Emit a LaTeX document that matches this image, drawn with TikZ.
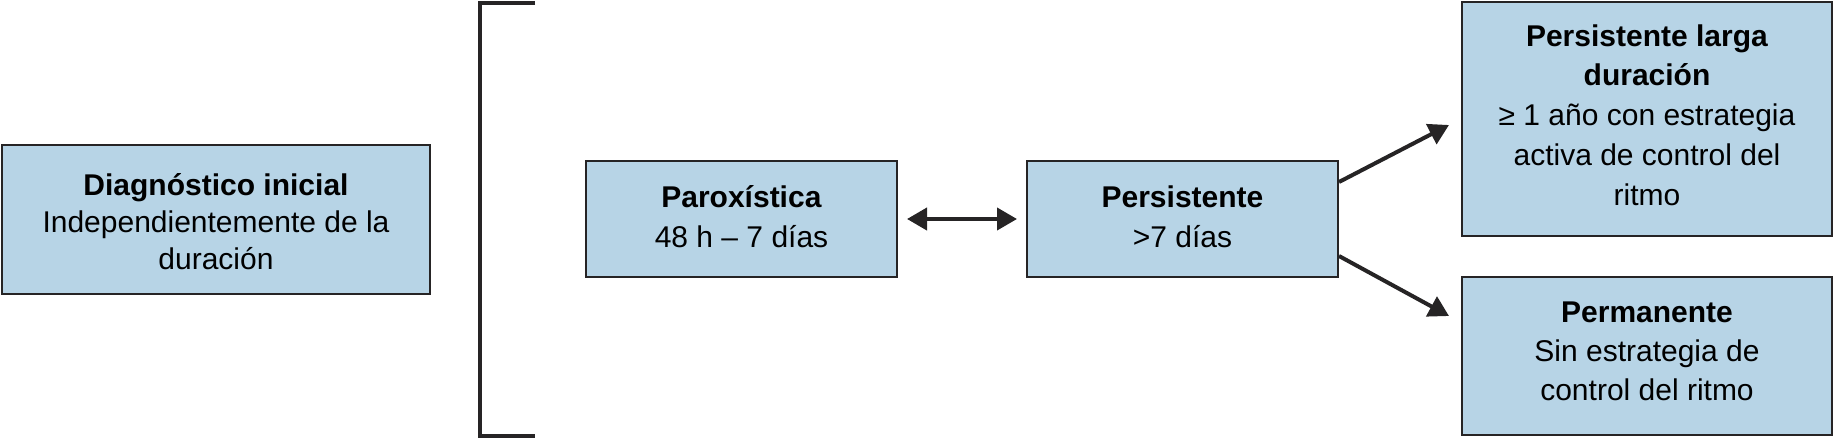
\documentclass[tikz,border=0pt]{standalone}
\usepackage{fontspec}
\setmainfont{Liberation Sans}
\usetikzlibrary{arrows.meta,calc}
\definecolor{boxblue}{RGB}{183,212,230}
\definecolor{edgegray}{RGB}{38,36,37}
\newcommand{\topstrutx}{\rule{0pt}{30pt}}
\newcommand{\botstrutx}[1]{\rule[-#1]{0pt}{0pt}}
\begin{document}
\begin{tikzpicture}[x=1pt,y=-1pt,
  box/.style={draw=edgegray, line width=2pt, fill=boxblue, align=center,
    inner sep=0pt},
  conn/.style={line width=4pt, draw=edgegray, -{Triangle[length=20pt,width=22pt]}},
  dconn/.style={line width=4pt, draw=edgegray, {Triangle[length=20pt,width=22pt]}-{Triangle[length=20pt,width=22pt]}},
  bracketline/.style={line width=4pt, draw=edgegray}]
\useasboundingbox (0,0) rectangle (1834,439);
\node[box, minimum width=428pt, minimum height=149pt, font=\fontsize{30}{37}\selectfont] (diag) at (216,219.5)
  {\topstrutx\textbf{Diagnóstico inicial}\\Independientemente de la\\duración\botstrutx{5pt}};
\node[box, minimum width=311pt, minimum height=116pt, font=\fontsize{30}{40}\selectfont] (parox) at (741.5,219)
  {\topstrutx\textbf{Paroxística}\\48 h – 7 días\botstrutx{14pt}};
\node[box, minimum width=311pt, minimum height=116pt, font=\fontsize{30}{40}\selectfont] (persist) at (1182.5,219)
  {\topstrutx\textbf{Persistente}\\>7 días\botstrutx{14pt}};
\node[box, minimum width=370pt, minimum height=234pt, font=\fontsize{30}{39.75}\selectfont] (larga) at (1647,119)
  {\topstrutx\textbf{Persistente larga}\\\textbf{duración}\\≥ 1 año con estrategia\\activa de control del\\ritmo\botstrutx{17pt}};
\node[box, minimum width=370pt, minimum height=158pt, font=\fontsize{30}{39}\selectfont] (perm) at (1647,356)
  {\topstrutx\textbf{Permanente}\\Sin estrategia de\\control del ritmo\botstrutx{20pt}};
\draw[bracketline] (535,3) -- (480,3) -- (480,436) -- (535,436);
\draw[dconn, shorten <=9pt, shorten >=9pt] (parox.east) -- (persist.west);
\draw[conn] ($(persist.east)+(0,-37)$) -- ($(larga.west)+(-12,6)$);
\draw[conn] ($(persist.east)+(0,37)$) -- ($(perm.west)+(-12,-40)$);
\end{tikzpicture}
\end{document}
